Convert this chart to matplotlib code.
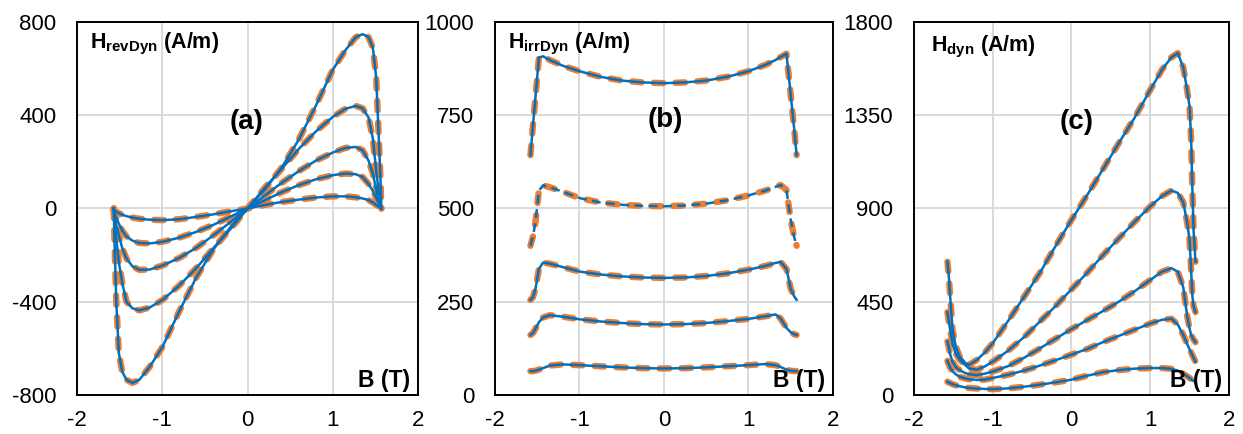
import matplotlib
matplotlib.use("Agg")
import matplotlib.pyplot as plt

plt.rcParams['font.family'] = ['Liberation Sans', 'DejaVu Sans']
plt.rcParams['mathtext.fontset'] = 'custom'
plt.rcParams['mathtext.rm'] = 'Liberation Sans'
plt.rcParams['mathtext.bf'] = 'Liberation Sans:bold'
plt.rcParams['mathtext.it'] = 'Liberation Sans:italic'
plt.rcParams['axes.unicode_minus'] = False

# ---------------- data ----------------
# Panel (a): H_revDyn
Ba = [-1.57, -1.56, -1.54, -1.51, -1.47, -1.42, -1.35, -1.27, -1.15, -1.0, -0.8, -0.6, -0.4, -0.2, 0,
      0.2, 0.4, 0.6, 0.8, 1.0, 1.15, 1.27, 1.35, 1.42, 1.47, 1.51, 1.54, 1.56, 1.57]
Ha1 = [0, -150, -400, -620, -700, -735, -748, -735, -680, -595, -440, -295, -175, -80, 0,
       80, 175, 295, 440, 595, 680, 735, 748, 735, 690, 560, 300, 120, 0]
Ha2 = [0, -55, -130, -230, -320, -400, -428, -437, -425, -393, -330, -255, -170, -88, 0,
       88, 170, 255, 330, 393, 428, 440, 430, 390, 300, 160, 70, 25, 0]
Ha3 = [0, -30, -70, -115, -170, -215, -248, -263, -262, -245, -212, -168, -115, -58, 0,
       55, 110, 160, 205, 240, 260, 264, 250, 205, 150, 80, 35, 12, 0]
Ha4 = [0, -20, -40, -65, -95, -120, -138, -148, -150, -143, -125, -100, -70, -35, 0,
       35, 70, 100, 125, 143, 150, 147, 135, 105, 75, 45, 22, 8, 0]
Ha5 = [0, -8, -14, -20, -27, -33, -39, -44, -48, -50, -46, -36, -25, -12, 0,
       15, 28, 38, 47, 52, 52, 48, 43, 36, 26, 15, 7, 3, 0]

# Panel (b): H_irrDyn
Bb = [-1.58, -1.55, -1.52, -1.48, -1.43, -1.35, -1.2, -1.0, -0.75, -0.5, -0.25, 0,
      0.25, 0.5, 0.75, 1.0, 1.2, 1.32, 1.38, 1.45, 1.5, 1.54, 1.57]
Hb1 = [643, 724, 800, 905, 908, 898, 883, 868, 853, 843, 838, 836,
       838, 843, 853, 868, 885, 898, 906, 915, 806, 716, 643]
Hb2 = [400, 425, 465, 548, 562, 557, 545, 528, 516, 510, 507, 506,
       508, 513, 522, 535, 548, 558, 563, 550, 470, 425, 400]
Hb3 = [255, 262, 285, 338, 355, 352, 343, 331, 323, 318, 315, 314,
       315, 319, 326, 336, 346, 354, 357, 338, 285, 265, 255]
Hb4 = [161, 166, 178, 195, 208, 214, 210, 203, 197, 193, 190, 189,
       190, 193, 198, 204, 211, 216, 205, 180, 168, 163, 161]
Hb5 = [64, 64, 65, 68, 72, 79, 82, 80, 77, 74, 72, 71,
       72, 74, 77, 80, 83, 80, 75, 68, 65, 64, 64]

# Panel (c): H_dyn
Bc = [-1.575, -1.555, -1.54, -1.51, -1.47, -1.42, -1.35, -1.3, -1.2, -1.1, -1.0, -0.8, -0.6, -0.4, -0.2, 0,
      0.2, 0.4, 0.6, 0.8, 1.0, 1.15, 1.27, 1.35, 1.42, 1.47, 1.5, 1.52, 1.535, 1.55, 1.575]
Hc1 = [643, 560, 474, 314, 235, 185, 155, 145, 170, 205, 250, 360, 475, 590, 720, 845,
       965, 1090, 1215, 1337, 1472, 1570, 1630, 1650, 1580, 1470, 1391, 1231, 1000, 800, 643]
Hc2 = [400, 350, 314, 245, 200, 170, 145, 128, 122, 138, 161, 215, 280, 355, 430, 510,
       590, 675, 755, 835, 910, 960, 987, 975, 930, 830, 748, 600, 480, 430, 400]
Hc3 = [258, 225, 195, 160, 135, 120, 106, 100, 96, 103, 113, 140, 180, 225, 272, 318,
       362, 405, 450, 500, 555, 595, 612, 595, 520, 380, 320, 290, 278, 268, 255]
Hc4 = [165, 145, 132, 115, 100, 88, 80, 76, 73, 74, 82, 98, 118, 142, 168, 195,
       222, 255, 285, 315, 345, 363, 368, 340, 290, 245, 220, 205, 192, 180, 161]
Hc5 = [64, 60, 57, 52, 47, 42, 37, 34, 31, 29, 28, 32, 40, 50, 61, 74,
       93, 110, 120, 127, 130, 130, 126, 118, 102, 90, 82, 76, 72, 68, 64]

x_ticks = [-2, -1, 0, 1, 2]
panels = [
    dict(B=Ba, curves=[Ha1, Ha2, Ha3, Ha4, Ha5], ylim=(-800, 800), yticks=[-800, -400, 0, 400, 800],
         label=r'$\mathbf{H_{revDyn}}$ (A/m)', tag='(a)', blue_dashed=[],
         pos=[0.062, 0.0899, 0.2743, 0.8594], lab_xy=(0.038, 0.928), tag_xy=(0.496, 0.733)),
    dict(B=Bb, curves=[Hb1, Hb2, Hb3, Hb4, Hb5], ylim=(0, 1000), yticks=[0, 250, 500, 750, 1000],
         label=r'$\mathbf{H_{irrDyn}}$ (A/m)', tag='(b)', blue_dashed=[1],
         pos=[0.3982, 0.0899, 0.2719, 0.8594], lab_xy=(0.039, 0.928), tag_xy=(0.503, 0.737)),
    dict(B=Bc, curves=[Hc1, Hc2, Hc3, Hc4, Hc5], ylim=(0, 1800), yticks=[0, 450, 900, 1350, 1800],
         label=r'$\mathbf{H_{dyn}}$ (A/m)', tag='(c)', blue_dashed=[],
         pos=[0.7353, 0.0899, 0.2534, 0.8594], lab_xy=(0.054, 0.920), tag_xy=(0.517, 0.733)),
]

ORANGE = '#ED7D31'
BLUE = '#0070C0'

fig = plt.figure(figsize=(12.43, 4.34), dpi=100)
for p in panels:
    ax = fig.add_axes(p['pos'])
    ax.set_xlim(-2, 2)
    ax.set_ylim(*p['ylim'])
    ax.set_xticks(x_ticks)
    ax.set_yticks(p['yticks'])
    ax.grid(True, color='#D9D9D9', lw=1.4, zorder=0)
    ax.set_axisbelow(True)
    ax.tick_params(length=0, labelsize=16, pad=15, colors='black')
    ax.tick_params(axis='x', pad=11)
    for s in ax.spines.values():
        s.set_linewidth(1.4)
        s.set_color('black')
    for i, H in enumerate(p['curves']):
        lo, = ax.plot(p['B'], H, color=ORANGE, lw=4.6, solid_capstyle='round',
                      dash_capstyle='round', zorder=2)
        lo.set_dashes([1.5, 1.9])
        if i in p['blue_dashed']:
            lb, = ax.plot(p['B'], H, color=BLUE, lw=1.8, dash_capstyle='butt', zorder=3)
            lb.set_dashes([3.5, 2.2])
        else:
            ax.plot(p['B'], H, color=BLUE, lw=1.8, zorder=3)
    ax.text(p['lab_xy'][0], p['lab_xy'][1], p['label'], transform=ax.transAxes,
            fontsize=15.5, fontweight='bold', ha='left', va='baseline', zorder=5)
    ax.text(p['tag_xy'][0], p['tag_xy'][1], p['tag'], transform=ax.transAxes,
            fontsize=20, fontweight='bold', ha='center', va='center', zorder=5)
    ax.text(0.977, 0.022, 'B (T)', transform=ax.transAxes,
            fontsize=16.5, fontweight='bold', ha='right', va='baseline', zorder=5)

fig.savefig('out.png', dpi=100)
